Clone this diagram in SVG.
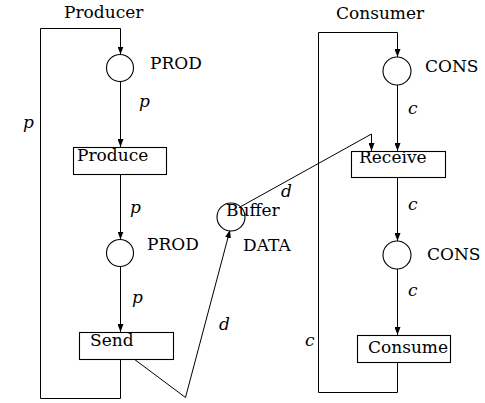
<svg xmlns="http://www.w3.org/2000/svg" width="485" height="403" viewBox="0 0 485 403">
  <style>
    .edge { fill: none; stroke: #000; stroke-width: 1; }
    .place { fill: #fff; stroke: #000; stroke-width: 1.1; }
    .trans { fill: #fff; stroke: #000; stroke-width: 1.1; }
    .var { font-style: italic; }
  </style>
  <defs>
    <marker id="arr" viewBox="0 0 8 6" refX="8" refY="3" markerWidth="8" markerHeight="6" markerUnits="userSpaceOnUse" orient="auto">
      <path d="M0,0 L8,3 L0,6 Z" fill="#000"/>
    </marker>
  </defs>
  <rect width="485" height="403" fill="#fff"/>

  <g font-family="'DejaVu Serif', 'Liberation Serif', serif" font-size="17" fill="#000">
  <!-- section titles -->
  <text x="64" y="18">Producer</text>
  <text x="336" y="19">Consumer</text>

  <!-- arcs -->
  <g id="connectors">
    <!-- producer loop -->
    <path class="edge" d="M120.5,359 V398.5 H40.5 V28.5 H120.5 V54.5" marker-end="url(#arr)"/>
    <path class="edge" d="M120.5,81 V147" marker-end="url(#arr)"/>
    <path class="edge" d="M120.5,174 V239.5" marker-end="url(#arr)"/>
    <path class="edge" d="M120.5,267 V332" marker-end="url(#arr)"/>
    <!-- Send to Buffer -->
    <path class="edge" d="M134,359 L185.5,397.5 L230,230" marker-end="url(#arr)"/>
    <!-- Buffer to Receive -->
    <path class="edge" d="M240,207 L371.5,134 V151" marker-end="url(#arr)"/>
    <!-- consumer loop -->
    <path class="edge" d="M397.5,362 V392.5 H318.5 V32.5 H397.5 V57" marker-end="url(#arr)"/>
    <path class="edge" d="M397.5,85 V151" marker-end="url(#arr)"/>
    <path class="edge" d="M397.5,177 V241" marker-end="url(#arr)"/>
    <path class="edge" d="M397.5,269 V335" marker-end="url(#arr)"/>
  </g>

  <!-- arc inscriptions -->
  <g id="inscriptions">
    <text x="139" y="107" class="var">p</text>
    <text x="23" y="128" class="var">p</text>
    <text x="130" y="213" class="var">p</text>
    <text x="132" y="303" class="var">p</text>
    <text x="219" y="330" class="var">d</text>
    <text x="281" y="197" class="var">d</text>
    <text x="408" y="114" class="var">c</text>
    <text x="408" y="210" class="var">c</text>
    <text x="408" y="296" class="var">c</text>
    <text x="305" y="346" class="var">c</text>
  </g>

  <g id="place-prod1">
    <circle class="place" cx="120" cy="68" r="13.5"/>
    <text x="150" y="69">PROD</text>
  </g>
  <g id="trans-produce">
    <rect class="trans" x="73.5" y="147.5" width="93" height="27"/>
    <text x="77" y="161">Produce</text>
  </g>
  <g id="place-prod2">
    <circle class="place" cx="120" cy="253" r="13.5"/>
    <text x="147" y="250">PROD</text>
  </g>
  <g id="trans-send">
    <rect class="trans" x="79.5" y="332.5" width="94" height="27"/>
    <text x="90" y="346">Send</text>
  </g>
  <g id="place-buffer">
    <circle class="place" cx="231" cy="217" r="14"/>
    <text x="226" y="216">Buffer</text>
    <text x="243" y="251">DATA</text>
  </g>
  <g id="place-cons1">
    <circle class="place" cx="397" cy="71" r="14"/>
    <text x="425" y="72">CONS</text>
  </g>
  <g id="trans-receive">
    <rect class="trans" x="351.5" y="151.5" width="94" height="26"/>
    <text x="359" y="163">Receive</text>
  </g>
  <g id="place-cons2">
    <circle class="place" cx="397" cy="255" r="14"/>
    <text x="427" y="260">CONS</text>
  </g>
  <g id="trans-consume">
    <rect class="trans" x="357.5" y="335.5" width="93" height="27"/>
    <text x="368" y="353">Consume</text>
  </g>
  </g>
</svg>
